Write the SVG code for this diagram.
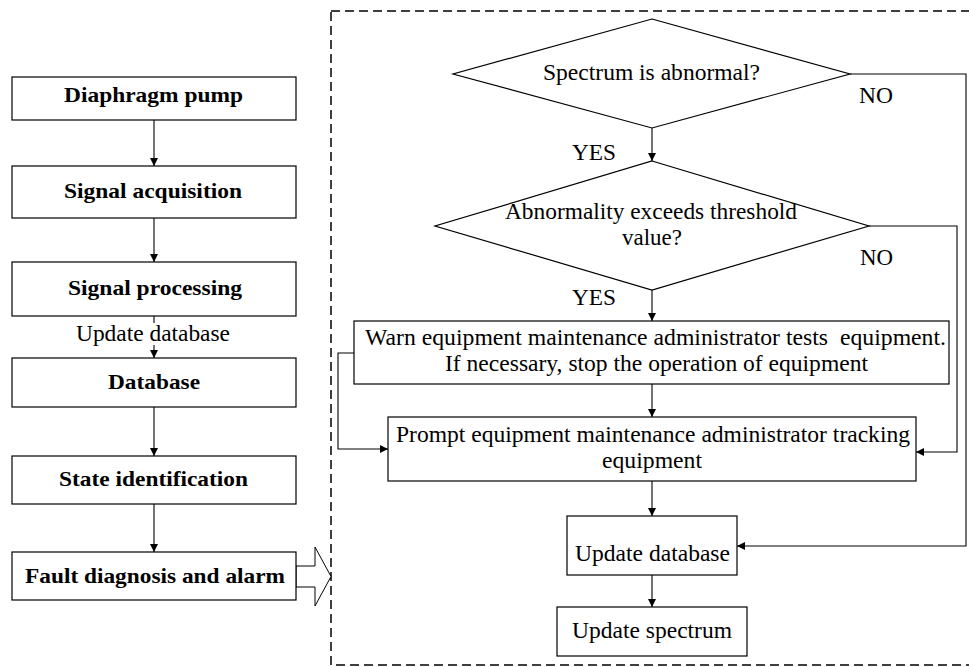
<svg xmlns="http://www.w3.org/2000/svg" width="969" height="667" viewBox="0 0 969 667">
<style>
.box{fill:#fff;stroke:#000;stroke-width:1.2}
.t{font-family:"Liberation Serif","Times New Roman",serif;font-size:22.5px;fill:#000}
.b{font-family:"Liberation Serif","Times New Roman",serif;font-size:21px;font-weight:bold;fill:#000}
.c{fill:none;stroke:#000;stroke-width:1.1}
</style>
<defs>
<marker id="ah" viewBox="0 0 10 10" refX="10" refY="5" markerWidth="8" markerHeight="8" markerUnits="userSpaceOnUse" orient="auto">
<path d="M0,0 L10,5 L0,10 z" fill="#000"/>
</marker>
</defs>
<rect width="969" height="667" fill="#fff"/>
<g id="frame">
<rect x="331" y="11" width="660" height="654" fill="none" stroke="#000" stroke-width="1.5" stroke-dasharray="9 5"/>
</g>
<g id="connectors">
<line class="c" x1="154" y1="120" x2="154" y2="166" marker-end="url(#ah)"/>
<line class="c" x1="154" y1="218" x2="154" y2="262" marker-end="url(#ah)"/>
<line class="c" x1="154" y1="316" x2="154" y2="323"/>
<line class="c" x1="154" y1="345" x2="154" y2="358" marker-end="url(#ah)"/>
<line class="c" x1="154" y1="407" x2="154" y2="456" marker-end="url(#ah)"/>
<line class="c" x1="154" y1="504" x2="154" y2="552" marker-end="url(#ah)"/>
<polygon points="296,566 315,566 315,547 331,576.5 315,606 315,587 296,587" fill="#fff" stroke="#000" stroke-width="1"/>
<line class="c" x1="652" y1="128" x2="652" y2="161" marker-end="url(#ah)"/>
<polyline class="c" points="850,74 966,74 966,546 737,546" marker-end="url(#ah)"/>
<polyline class="c" points="869,226 957,226 957,452 916,452" marker-end="url(#ah)"/>
<line class="c" x1="652" y1="290" x2="652" y2="321" marker-end="url(#ah)"/>
<polyline class="c" points="354,353 338,353 338,449 388,449" marker-end="url(#ah)"/>
<line class="c" x1="652" y1="384" x2="652" y2="417" marker-end="url(#ah)"/>
<line class="c" x1="652" y1="481" x2="652" y2="516" marker-end="url(#ah)"/>
<line class="c" x1="652" y1="575" x2="652" y2="607" marker-end="url(#ah)"/>
<text class="t" x="572" y="160" textLength="44" lengthAdjust="spacingAndGlyphs">YES</text>
<text class="t" x="572" y="305" textLength="44" lengthAdjust="spacingAndGlyphs">YES</text>
<text class="t" x="859" y="103" textLength="34" lengthAdjust="spacingAndGlyphs">NO</text>
<text class="t" x="860" y="265" textLength="33" lengthAdjust="spacingAndGlyphs">NO</text>
<text class="t" x="76" y="341" textLength="154" lengthAdjust="spacingAndGlyphs">Update database</text>
</g>
<g id="n-pump">
<rect class="box" x="12" y="77" width="284" height="43"/>
<text class="b" x="64" y="102" textLength="179" lengthAdjust="spacingAndGlyphs">Diaphragm pump</text>
</g>
<g id="n-acq">
<rect class="box" x="12" y="166" width="284" height="52"/>
<text class="b" x="64" y="198" textLength="178" lengthAdjust="spacingAndGlyphs">Signal acquisition</text>
</g>
<g id="n-proc">
<rect class="box" x="12" y="262" width="284" height="54"/>
<text class="b" x="68" y="295" textLength="174" lengthAdjust="spacingAndGlyphs">Signal processing</text>
</g>
<g id="n-db">
<rect class="box" x="12" y="358" width="284" height="49"/>
<text class="b" x="108" y="389" textLength="92" lengthAdjust="spacingAndGlyphs">Database</text>
</g>
<g id="n-state">
<rect class="box" x="12" y="456" width="284" height="48"/>
<text class="b" x="59" y="486" textLength="189" lengthAdjust="spacingAndGlyphs">State identification</text>
</g>
<g id="n-fault">
<rect class="box" x="12" y="552" width="284" height="48"/>
<text class="b" x="25" y="583" textLength="260" lengthAdjust="spacingAndGlyphs">Fault diagnosis and alarm</text>
</g>
<g id="n-d1">
<polygon class="box" points="652,19 850,74 652,128 453,74"/>
<text class="t" x="543" y="80" textLength="217" lengthAdjust="spacingAndGlyphs">Spectrum is abnormal?</text>
</g>
<g id="n-d2">
<polygon class="box" points="652,161 869,226 652,290 435,226"/>
<text class="t" x="505" y="219" textLength="292" lengthAdjust="spacingAndGlyphs">Abnormality exceeds threshold</text>
<text class="t" x="622" y="245" textLength="60" lengthAdjust="spacingAndGlyphs">value?</text>
</g>
<g id="n-warn">
<rect class="box" x="354" y="321" width="595" height="63"/>
<text class="t" x="365" y="345" textLength="581" lengthAdjust="spacingAndGlyphs" xml:space="preserve">Warn equipment maintenance administrator tests  equipment.</text>
<text class="t" x="445" y="371" textLength="423" lengthAdjust="spacingAndGlyphs">If necessary, stop the operation of equipment</text>
</g>
<g id="n-prompt">
<rect class="box" x="388" y="417" width="528" height="64"/>
<text class="t" x="396" y="442" textLength="514" lengthAdjust="spacingAndGlyphs">Prompt equipment maintenance administrator tracking</text>
<text class="t" x="602" y="468" textLength="100" lengthAdjust="spacingAndGlyphs">equipment</text>
</g>
<g id="n-updb">
<rect class="box" x="567" y="516" width="170" height="59"/>
<text class="t" x="575" y="561" textLength="155" lengthAdjust="spacingAndGlyphs">Update database</text>
</g>
<g id="n-upsp">
<rect class="box" x="557" y="607" width="190" height="49"/>
<text class="t" x="572" y="638" textLength="160" lengthAdjust="spacingAndGlyphs">Update spectrum</text>
</g>
</svg>
